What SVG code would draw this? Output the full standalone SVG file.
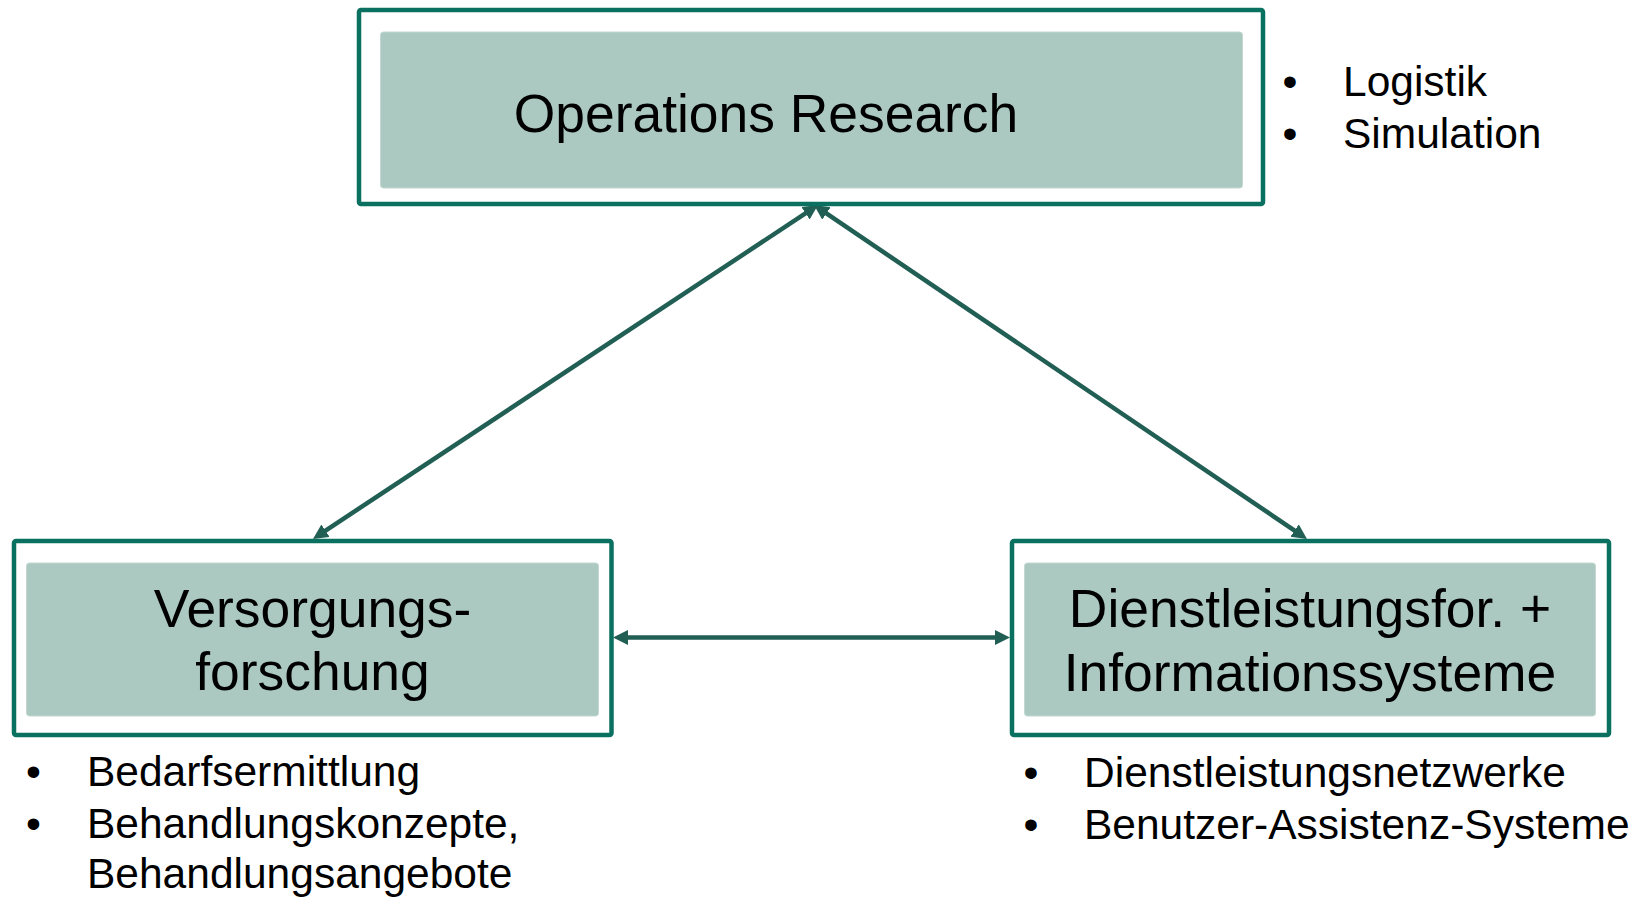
<svg xmlns="http://www.w3.org/2000/svg" width="1644" height="897" viewBox="0 0 1644 897">
<style>
.outer{fill:#ffffff;stroke:#0a705f;stroke-width:4.5}
.inner{fill:#abc9c0;stroke:#c2d8d1;stroke-width:1}
.title{font-family:"Liberation Sans",Arial,sans-serif;font-size:53.4px;fill:#000;text-anchor:middle}
.bul{font-family:"Liberation Sans",Arial,sans-serif;font-size:42.5px;fill:#000}
.dot{font-family:"Liberation Sans",Arial,sans-serif;font-size:42.5px;fill:#000;text-anchor:middle}
.conn{stroke:#215e54;stroke-width:4.5;fill:none;marker-start:url(#ah);marker-end:url(#ah)}
</style>
<defs>
<marker id="ah" markerUnits="userSpaceOnUse" markerWidth="16" markerHeight="16" viewBox="0 0 16 16" refX="9" refY="7.5" orient="auto-start-reverse">
<path d="M0,0 L15,7.5 L0,15 z" fill="#215e54"/>
</marker>
</defs>
<rect width="1644" height="897" fill="#ffffff"/>
<g id="connectors">
<line class="conn" x1="813" y1="208.4" x2="318" y2="535.6"/>
<line class="conn" x1="819" y1="208.4" x2="1302" y2="535.6"/>
<line class="conn" x1="619" y1="637.5" x2="1004" y2="637.5"/>
</g>
<g id="node-or">
<rect class="outer" x="359" y="10" width="904" height="194" rx="2"/>
<rect class="inner" x="380.5" y="32" width="862" height="156" rx="3"/>
<text class="title" x="766" y="132">Operations Research</text>
</g>
<g id="node-vf">
<rect class="outer" x="14" y="541" width="597.5" height="194" rx="2"/>
<rect class="inner" x="26.5" y="563" width="572" height="153" rx="3"/>
<text class="title" x="312.5" y="626.5">Versorgungs-</text>
<text class="title" x="312.5" y="690">forschung</text>
</g>
<g id="node-di">
<rect class="outer" x="1012" y="541" width="597" height="194" rx="2"/>
<rect class="inner" x="1024.5" y="563" width="571" height="153" rx="3"/>
<text class="title" x="1310" y="626.5">Dienstleistungsfor. +</text>
<text class="title" x="1310" y="690.5">Informationssysteme</text>
</g>
<g id="list-or">
<text class="dot" x="1290" y="96">•</text>
<text class="bul" x="1343" y="96">Logistik</text>
<text class="dot" x="1290" y="148">•</text>
<text class="bul" x="1343" y="148">Simulation</text>
</g>
<g id="list-vf">
<text class="dot" x="33.5" y="786">•</text>
<text class="bul" x="87" y="786">Bedarfsermittlung</text>
<text class="dot" x="33.5" y="838">•</text>
<text class="bul" x="87" y="838">Behandlungskonzepte,</text>
<text class="bul" x="87" y="888">Behandlungsangebote</text>
</g>
<g id="list-di">
<text class="dot" x="1031" y="787">•</text>
<text class="bul" x="1084" y="787">Dienstleistungsnetzwerke</text>
<text class="dot" x="1031" y="839">•</text>
<text class="bul" x="1084" y="839">Benutzer-Assistenz-Systeme</text>
</g>
</svg>
